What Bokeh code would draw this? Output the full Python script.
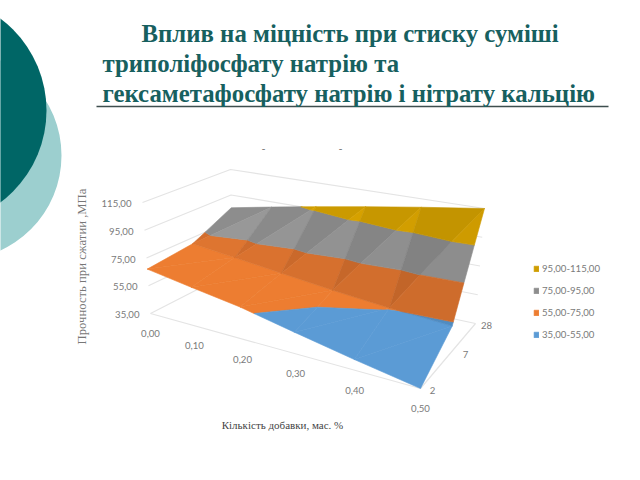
import numpy as np
from bokeh.embed import file_html
from bokeh.resources import INLINE
from bokeh.plotting import figure
from bokeh.models import Legend, LegendItem, Label
from bokeh.core.properties import value

# ---- data ----
additive = [0.00, 0.10, 0.20, 0.30, 0.40, 0.50]
additive_labels = ["0,00", "0,10", "0,20", "0,30", "0,40", "0,50"]
days = ["2", "7", "28"]
strength_day2 = [67, 62, 57, 49.5, 42, 35]
strength_day7 = [70.5, 67, 63, 59, 55.5, 53]
strength_day28 = [85, 91, 97, 103, 109, 115]
z_ticks = [35, 55, 75, 95, 115]
z_labels = ["35,00", "55,00", "75,00", "95,00", "115,00"]
band_labels = ["35,00-55,00", "55,00-75,00", "75,00-95,00", "95,00-115,00"]
title_lines = ["Вплив на міцність при стиску суміші", "триполіфосфату натрію та",
               "гексаметафосфату натрію і нітрату кальцію"]
y_title = "Прочность при сжатии ,МПа"
x_title = "Кількість добавки, мас. %"

# ---- styles ----
band_front = [(0x5B, 0x9B, 0xD5), (0xED, 0x7D, 0x31), (0x9C, 0x9C, 0x9C), (0xE3, 0xAC, 0x00)]
band_light = [(0x57, 0x97, 0xD1), (0xDE, 0x75, 0x30), (0x98, 0x98, 0x98), (0xDE, 0xA8, 0x00)]
band_dark = [(0x52, 0x90, 0xC8), (0xD2, 0x6D, 0x2D), (0x8D, 0x8D, 0x8D), (0xD3, 0xA0, 0x00)]
TITLE = "#17605F"


def tone(rgb, i):
    return "#%02X%02X%02X" % tuple(int(c * (1 - 0.018 * i)) for c in rgb)


# ---- 3-D view: corners of the box on the page (front-left, front-right, back-right, back-left) ----
floor = [(150, 313), (420, 388), (475, 323), (232, 271)]
ceil = [(142, 202), (424, 264), (484, 208), (230, 169)]


def homography(c):
    src = [(0, 0), (1, 0), (1, 1), (0, 1)]
    A, b = [], []
    for (u, v), (x, y) in zip(src, c):
        A.append([u, v, 1, 0, 0, 0, -u * x, -v * x]); b.append(x)
        A.append([0, 0, 0, u, v, 1, -u * y, -v * y]); b.append(y)
    return np.append(np.linalg.solve(np.array(A, float), np.array(b, float)), 1).reshape(3, 3)


Hf, Hc = homography(floor), homography(ceil)


def project(u, v, z):
    w = (z - 35) / 80
    a = Hf @ [u, v, 1]
    b = Hc @ [u, v, 1]
    a, b = a[:2] / a[2], b[:2] / b[2]
    return (1 - w) * a + w * b


def clip(poly, lo, hi):
    for bound, sign in ((lo, 1), (hi, -1)):
        out = []
        for i, p in enumerate(poly):
            q = poly[(i + 1) % len(poly)]
            dp, dq = sign * (p[2] - bound), sign * (q[2] - bound)
            if dp >= 0:
                out.append(p)
            if dp * dq < 0:
                t = dp / (dp - dq)
                out.append(tuple(p[k] + t * (q[k] - p[k]) for k in range(3)))
        poly = out
        if not poly:
            return []
    return poly


p = figure(width=624, height=464, x_range=(0, 624), y_range=(464, 0),
           output_backend="svg", toolbar_location=None, min_border=0,
           outline_line_color=None, background_fill_color="white")
p.axis.visible = False
p.grid.visible = False

# decoration at the left of the slide
p.circle([-43.5], [155], radius=104.5, color="#9CCFCF", line_color=None)
p.circle([-69], [110], radius=115, color="#006666", line_color=None)

# title
for line, tx, ty in zip(title_lines, [141, 102, 102], [33, 63, 93]):
    p.add_layout(Label(x=tx, y=ty, text=line, text_font="Liberation Serif", text_font_style="bold",
                       text_font_size="24.8px", text_color=TITLE, text_baseline="alphabetic"))
p.line([96, 608], [106, 106], line_color="#3E4E4E", line_width=1.5)

# walls and floor of the 3-D box
wall = "#E4E4E4"
xs, ys = [], []
for z in z_ticks:
    a, b, c = project(0, 0, z), project(0, 1, z), project(1, 1, z)
    xs.append([a[0], b[0], c[0]]); ys.append([a[1], b[1], c[1]])
a, b, c = project(0, 0, 35), project(1, 0, 35), project(1, 1, 35)
xs.append([a[0], b[0], c[0]]); ys.append([a[1], b[1], c[1]])
p.multi_line(xs, ys, line_color=wall, line_width=1.2)

# surface
grid = np.array([strength_day2, strength_day7, strength_day28], float)
nx, ny = len(additive), len(days)
U = [a / additive[-1] for a in additive]
V = [i / (ny - 1) for i in range(ny)]
polys = {}
for j in range(ny - 1):
    for i in range(nx - 1):
        n = (U[i], V[j], grid[j, i])
        m = (U[i + 1], V[j], grid[j, i + 1])
        f = (U[i + 1], V[j + 1], grid[j + 1, i + 1])
        g = (U[i], V[j + 1], grid[j + 1, i])
        tris = [((n, f, g), "dark"), ((n, m, f), "light")]
        for tri, shade in tris:
            for k in range(len(z_ticks) - 1):
                c = clip(list(tri), z_ticks[k], z_ticks[k + 1])
                if len(c) < 3:
                    continue
                pts = np.array([project(*q) for q in c])
                if j == 0:
                    col = "#%02X%02X%02X" % band_front[k]
                else:
                    col = tone(band_dark[k] if shade == "dark" else band_light[k], i)
                polys.setdefault((k, col), []).append(pts)

renderers = {}
for (k, col), lst in polys.items():
    r = p.patches([list(q[:, 0]) for q in lst], [list(q[:, 1]) for q in lst],
                  fill_color=col, line_color=col, line_width=0.6)
    renderers.setdefault(k, r)

# tick labels of the box
grey = "#7A7A7A"
LF = value("Lato")
FS = "9.6px"
for z, lab in zip(z_ticks, z_labels):
    q = project(0, 0, z)
    p.text([q[0] - 11], [q[1] + 1], text=[lab], text_font=LF, text_font_size=FS, text_color=grey,
           text_align="right", text_baseline="middle")
for u, lab in zip(U, additive_labels):
    q = project(u, 0, 35)
    p.text([q[0]], [q[1] + 20], text=[lab], text_font=LF, text_font_size=FS, text_color=grey,
           text_align="center", text_baseline="middle")
for v, lab, dx in zip(V, days, [12, 15, 11]):
    q = project(1, v, 35)
    p.text([q[0] + dx], [q[1] + 2], text=[lab], text_font=LF, text_font_size=FS, text_color=grey,
           text_align="center", text_baseline="middle")
p.text([263, 340], [148, 148], text=["-", "-"], text_font=LF, text_font_size="11px", text_color=grey,
       text_align="center", text_baseline="middle")

# axis titles
p.text([81], [266], text=[y_title], angle=np.pi / 2, text_font=value("Liberation Serif"), text_font_size="12.7px",
       text_color="#777777", text_align="center", text_baseline="middle")
p.text([282], [424], text=[x_title], text_font=value("Liberation Serif"), text_font_size="11px",
       text_color="#444444", text_align="center", text_baseline="middle")

# legend
items = [LegendItem(label=band_labels[k], renderers=[renderers[k]]) for k in (3, 2, 1, 0)]
legend = Legend(items=items, location=(533, 123), orientation="vertical", padding=0, margin=0, spacing=8,
                glyph_width=6, glyph_height=7, label_standoff=3, label_height=14,
                label_text_font="Lato", label_text_font_size="9.6px", label_text_color=grey,
                background_fill_alpha=0, border_line_color=None)
p.add_layout(legend, "center")

open("out.html", "w").write(file_html(p, INLINE))
